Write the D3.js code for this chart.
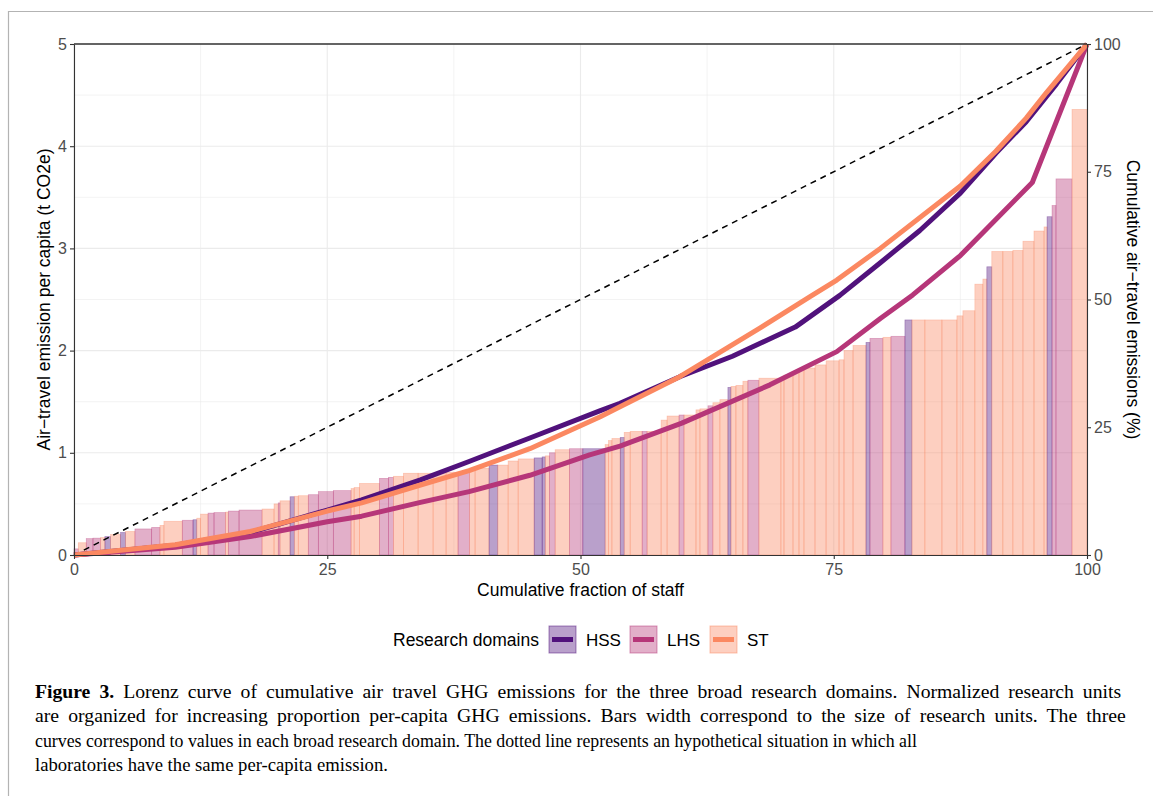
<!DOCTYPE html>
<html lang="en">
<head>
  <meta charset="UTF-8">
  <title>Lorenz curve of air travel emissions</title>
  <script src="https://d3js.org/d3.v7.min.js"></script>
  <style>
    body { margin: 0; background: #fff; }
    svg { display: block; }
    .axis text { font-family: "Liberation Sans", Arial, sans-serif; font-size: 16px; fill: #4d4d4d; }
    .axis line, .axis path { stroke: #333; stroke-width: 1.1; }
  </style>
</head>
<body>
<svg id="chart"></svg>

<script>
  // research units, sorted by per-capita emission
  const barDomain = ["LHS","ST","LHS","LHS","ST","HSS","ST","HSS","ST","LHS",
    "LHS","ST","ST","LHS","HSS","ST","ST","LHS","LHS","ST",
    "LHS","LHS","ST","ST","LHS","ST","HSS","ST","ST","LHS",
    "LHS","LHS","ST","ST","ST","LHS","LHS","ST","ST","ST",
    "ST","ST","LHS","ST","ST","HSS","ST","ST","ST","HSS",
    "HSS","ST","LHS","ST","LHS","HSS","ST","ST","ST","HSS",
    "ST","ST","LHS","ST","ST","ST","LHS","ST","ST","ST",
    "LHS","ST","ST","HSS","ST","ST","ST","LHS","ST","ST",
    "ST","ST","ST","ST","ST","ST","ST","ST","ST","HSS",
    "LHS","ST","LHS","HSS","ST","ST","ST","ST","ST","ST",
    "ST","HSS","ST","ST","ST","ST","ST","ST","HSS","LHS",
    "LHS","ST"];
  // width = share of staff (%)
  const barWidth = [0.42,0.79,0.66,0.76,0.42,0.56,0.99,0.49,0.92,1.65,
    0.82,0.39,1.81,1.06,0.37,0.38,0.73,0.59,1.15,0.26,
    1.06,2.27,1.18,0.42,0.17,0.99,0.42,0.39,0.99,0.99,
    1.48,1.75,0.30,0.52,1.97,0.89,0.49,0.99,1.45,1.48,
    1.28,1.18,1.14,0.54,1.38,0.86,1.02,0.99,1.58,0.79,
    0.30,0.42,0.56,1.41,1.32,2.20,0.33,0.34,0.82,0.39,
    0.59,1.18,0.49,1.38,0.59,1.18,0.49,1.18,0.39,0.79,
    0.49,0.69,0.79,0.30,0.49,0.69,0.49,1.09,2.17,0.30,
    0.89,0.59,0.49,1.09,1.09,1.28,0.49,0.89,1.28,0.39,
    1.28,0.79,1.38,0.69,1.28,1.68,1.48,0.59,1.18,0.79,
    0.39,0.49,1.09,0.99,0.99,1.09,0.99,0.30,0.49,0.39,
    1.58,1.48];
  // per-capita emission (t CO2e)
  const barHeight = [0.06,0.12,0.16,0.165,0.17,0.18,0.20,0.22,0.23,0.255,
    0.27,0.29,0.33,0.34,0.345,0.36,0.40,0.41,0.415,0.42,
    0.43,0.44,0.45,0.50,0.51,0.53,0.57,0.575,0.58,0.59,
    0.62,0.63,0.65,0.66,0.70,0.75,0.76,0.77,0.80,0.80,
    0.80,0.81,0.81,0.83,0.85,0.88,0.88,0.92,0.94,0.95,
    0.96,0.97,1.00,1.03,1.04,1.04,1.08,1.12,1.14,1.15,
    1.20,1.21,1.21,1.21,1.32,1.36,1.37,1.37,1.42,1.43,
    1.46,1.49,1.52,1.64,1.65,1.66,1.70,1.71,1.73,1.74,
    1.76,1.79,1.81,1.83,1.86,1.90,1.91,2.00,2.05,2.08,
    2.12,2.13,2.14,2.30,2.30,2.30,2.30,2.34,2.39,2.65,
    2.70,2.82,2.97,2.97,2.98,3.07,3.17,3.21,3.31,3.42,
    3.68,4.36];

  // Lorenz curves: [cumulative staff %, cumulative emissions %]
  const curveHSS = [[0,0],[10,1.9],[17.4,4.4],[25,8.8],[28.4,10.8],[34.2,14.7],[39,18.3],
    [45,22.9],[51.9,28.2],[53.9,29.7],[59.8,34.9],[65,38.9],[71.2,44.6],[75.6,50.8],
    [79.6,57.2],[83.5,63.5],[87.5,70.8],[91,78.6],[94,84.8],[97,92.2],[100,100]];
  const curveLHS = [[0,0],[10,1.5],[17.4,3.6],[25,6.5],[28.4,7.6],[34.2,10.3],[39,12.4],
    [45,15.6],[50.9,19.6],[53.9,21.3],[60,25.8],[68.7,33.3],[75.3,39.8],[79.6,46.3],
    [82.8,50.9],[87.5,58.6],[94.6,72.9],[100,100]];
  const curveST = [[0,0],[10,2],[17.4,4.6],[25,8.6],[28.4,10.2],[34.2,13.7],[39,16.5],
    [45,20.8],[51.9,27],[53.9,29],[59.8,34.9],[67.7,44.4],[72.7,50.6],[75.3,53.8],
    [79.6,60],[87.5,72.2],[91,79],[94,85.5],[96,90.5],[100,100]];

  const domains = ["HSS", "LHS", "ST"];
  const colours = ["#51127c", "#b63679", "#fb8861"];
  const xTicks = [0, 25, 50, 75, 100];
  const yTicks = [0, 1, 2, 3, 4, 5];
  const yRightTicks = [0, 25, 50, 75, 100];

  const captionLines = [
    "Lorenz curve of cumulative air travel GHG emissions for the three broad research domains. Normalized research units",
    "are organized for increasing proportion per-capita GHG emissions. Bars width correspond to the size of research units. The three",
    "curves correspond to values in each broad research domain. The dotted line represents an hypothetical situation in which all",
    "laboratories have the same per-capita emission."
  ];

  const W = 1153, H = 796;
  const svg = d3.select("#chart").attr("width", W).attr("height", H);

  // figure frame
  svg.append("path")
    .attr("d", "M8.5,796 V11.5 H1153")
    .attr("fill", "none").attr("stroke", "#b3b3b3").attr("stroke-width", 1.2);

  const pLeft = 74, pRight = 1087, pTop = 44, pBottom = 555;
  const x = d3.scaleLinear().domain([0, 100]).range([pLeft, pRight]);
  const y = d3.scaleLinear().domain([0, 5]).range([pBottom, pTop]);
  const yR = d3.scaleLinear().domain([0, 100]).range([pBottom, pTop]);
  const colour = d3.scaleOrdinal().domain(domains).range(colours);

  // grid
  const grid = svg.append("g");
  d3.range(0, 101, 12.5).forEach((v, i) => {
    grid.append("line").attr("x1", x(v)).attr("x2", x(v)).attr("y1", pTop).attr("y2", pBottom)
      .attr("stroke", "#ebebeb").attr("stroke-width", i % 2 ? 0.6 : 1.1);
  });
  d3.range(0, 5.01, 0.5).forEach((v, i) => {
    grid.append("line").attr("x1", pLeft).attr("x2", pRight).attr("y1", y(v)).attr("y2", y(v))
      .attr("stroke", "#ebebeb").attr("stroke-width", i % 2 ? 0.6 : 1.1);
  });

  // bars
  const total = d3.sum(barWidth);
  let cum = 0;
  const bars = barDomain.map((d, i) => {
    const b = { domain: d, x0: cum / total * 100, x1: (cum + barWidth[i]) / total * 100, h: barHeight[i] };
    cum += barWidth[i];
    return b;
  });
  svg.append("g").selectAll("rect").data(bars).join("rect")
    .attr("x", d => x(d.x0))
    .attr("width", d => x(d.x1) - x(d.x0))
    .attr("y", d => y(d.h))
    .attr("height", d => y(0) - y(d.h))
    .attr("fill", d => colour(d.domain)).attr("fill-opacity", 0.4)
    .attr("stroke", d => colour(d.domain)).attr("stroke-opacity", 0.4).attr("stroke-width", 0.7);

  // equality line
  svg.append("line")
    .attr("x1", x(0)).attr("y1", yR(0)).attr("x2", x(100)).attr("y2", yR(100))
    .attr("stroke", "#000").attr("stroke-width", 1.5).attr("stroke-dasharray", "6,5");

  // curves
  const line = d3.line().x(d => x(d[0])).y(d => yR(d[1]));
  [curveHSS, curveLHS, curveST].forEach((c, i) => {
    svg.append("path").datum(c).attr("d", line)
      .attr("fill", "none").attr("stroke", colours[i]).attr("stroke-width", 5)
      .attr("stroke-linejoin", "round");
  });

  // axes
  svg.append("g").attr("class", "axis").attr("transform", `translate(${pLeft},0)`)
    .call(d3.axisLeft(y).tickValues(yTicks).tickFormat(d3.format("d")).tickSize(4).tickSizeOuter(0).tickPadding(3));
  svg.append("g").attr("class", "axis").attr("transform", `translate(${pRight},0)`)
    .call(d3.axisRight(yR).tickValues(yRightTicks).tickSize(4).tickSizeOuter(0).tickPadding(3));
  svg.append("g").attr("class", "axis").attr("transform", `translate(0,${pBottom})`)
    .call(d3.axisBottom(x).tickValues(xTicks).tickSize(4).tickSizeOuter(0).tickPadding(5));
  svg.append("line").attr("x1", pLeft).attr("x2", pRight).attr("y1", pTop).attr("y2", pTop)
    .attr("stroke", "#333").attr("stroke-width", 1.3);

  // axis titles
  const titleFont = "'Liberation Sans', Arial, sans-serif";
  svg.append("text").attr("transform", `translate(50,${(pTop + pBottom) / 2}) rotate(-90)`)
    .attr("text-anchor", "middle").style("font-family", titleFont).style("font-size", "17.5px")
    .text("Air\u2212travel emission per capita (t CO2e)");
  svg.append("text").attr("transform", `translate(1127,${(pTop + pBottom) / 2}) rotate(90)`)
    .attr("text-anchor", "middle").style("font-family", titleFont).style("font-size", "17.5px")
    .text("Cumulative air\u2212travel emissions (%)");
  svg.append("text").attr("x", (pLeft + pRight) / 2).attr("y", 596)
    .attr("text-anchor", "middle").style("font-family", titleFont).style("font-size", "17.5px")
    .text("Cumulative fraction of staff");

  // legend
  const leg = svg.append("g").attr("transform", "translate(0,640)");
  leg.append("text").attr("x", 393).attr("y", 6).style("font-family", titleFont).style("font-size", "17.5px")
    .text("Research domains");
  const keyX = [549, 630, 710];
  domains.forEach((d, i) => {
    leg.append("rect").attr("x", keyX[i]).attr("y", -14).attr("width", 27).attr("height", 27)
      .attr("fill", colours[i]).attr("fill-opacity", 0.4)
      .attr("stroke", colours[i]).attr("stroke-opacity", 0.5).attr("stroke-width", 1);
    leg.append("line").attr("x1", keyX[i] + 3).attr("x2", keyX[i] + 24).attr("y1", -0.5).attr("y2", -0.5)
      .attr("stroke", colours[i]).attr("stroke-width", 5);
    leg.append("text").attr("x", keyX[i] + 37).attr("y", 6).style("font-family", titleFont).style("font-size", "17px")
      .text(d);
  });

  // caption: condensed serif, first two lines run full width
  const capEnds = [1122, 1126, 918, 388];
  const capLeft = 35;
  const caps = captionLines.map((t, i) => {
    const tx = svg.append("text").attr("x", 0).attr("y", 0)
      .style("font-family", "'Liberation Serif', 'Times New Roman', serif").style("font-size", "19px");
    if (i === 0) tx.append("tspan").style("font-weight", "bold").text("Figure 3. ");
    tx.append("tspan").text(t);
    return tx;
  });
  const natural = caps.map(c => c.node().getComputedTextLength());
  const sx = ((capEnds[2] - capLeft) / natural[2] + (capEnds[3] - capLeft) / natural[3]) / 2;
  caps.forEach((c, i) => {
    const baseY = 698 + i * 24.3;
    if (i < 2) {
      const txt = (i === 0 ? "Figure 3. " : "") + captionLines[i];
      const spaces = (txt.match(/ /g) || []).length;
      const sFull = (capEnds[i] - capLeft) / natural[i];
      const s = (sFull + sx) / 2;
      const extra = ((capEnds[i] - capLeft) / s - natural[i]) / spaces;
      c.style("word-spacing", extra + "px");
      c.attr("transform", `translate(${capLeft},${baseY}) scale(${s},1)`);
    } else {
      const s = (capEnds[i] - capLeft) / natural[i];
      c.attr("transform", `translate(${capLeft},${baseY}) scale(${s},1)`);
    }
  });
</script>
</body>
</html>
